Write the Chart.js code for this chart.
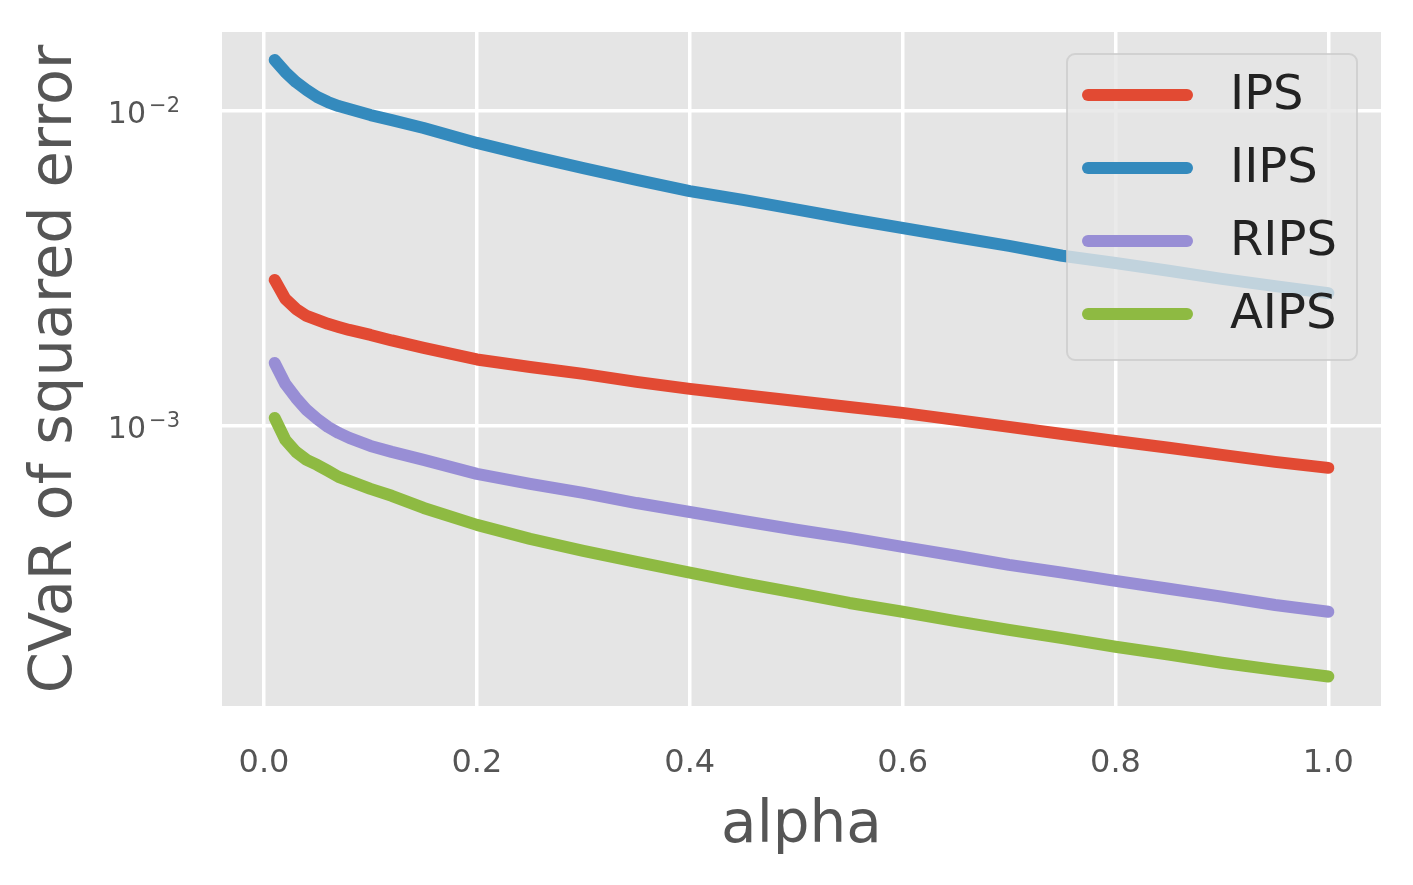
<!DOCTYPE html>
<html>
<head>
<meta charset="utf-8">
<script src="https://cdn.jsdelivr.net/npm/chart.js@4"></script>
<style>
  html, body { margin: 0; padding: 0; background: #ffffff; }
  canvas { display: block; }
</style>
</head>
<body>
<canvas id="cvar" width="1413" height="885"></canvas>
<script>
// valeurs (alpha en abscisse, CVaR en ordonnee log)
const alphaValues = [0.01, 0.02, 0.03, 0.04, 0.05, 0.06, 0.07, 0.08, 0.10, 0.12, 0.15,
    0.20, 0.25, 0.30, 0.35, 0.40, 0.45, 0.50, 0.55, 0.60, 0.65, 0.70, 0.75, 0.80, 0.85, 0.90, 0.95, 1.00];

const ipsValues = [0.002908, 0.002531, 0.002352, 0.002235, 0.002171, 0.002110, 0.002062, 0.002017, 0.001945, 0.001868, 0.001769,
    0.001626, 0.001539, 0.001463, 0.001380, 0.001311, 0.001254, 0.001200, 0.001149, 0.001100, 0.001045, 0.000993, 0.000943,
    0.000896, 0.000852, 0.000809, 0.000769, 0.000736];

const iipsValues = [0.01452, 0.01330, 0.01236, 0.01166, 0.01108, 0.01068, 0.01037, 0.01015, 0.00971, 0.00936, 0.00883,
    0.00792, 0.00720, 0.00659, 0.00604, 0.00557, 0.00522, 0.00487, 0.00454, 0.00425, 0.00398, 0.00373, 0.00347,
    0.00329, 0.00311, 0.00293, 0.00278, 0.00264];

const ripsValues = [0.001585, 0.001359, 0.001227, 0.001124, 0.001052, 0.000993, 0.000950, 0.000916, 0.000864, 0.000827, 0.000780,
    0.000704, 0.000655, 0.000613, 0.000569, 0.000533, 0.000499, 0.000468, 0.000441, 0.000413, 0.000387, 0.000362, 0.000342,
    0.000322, 0.000304, 0.000287, 0.000270, 0.000257];

const aipsValues = [0.001060, 0.000903, 0.000827, 0.000780, 0.000752, 0.000720, 0.000689, 0.000669, 0.000631, 0.000600, 0.000549,
    0.000485, 0.000438, 0.000401, 0.000370, 0.000342, 0.000317, 0.000295, 0.000274, 0.000257, 0.000240, 0.000225, 0.000212,
    0.000199, 0.000188, 0.000177, 0.000168, 0.000160];

const seriesNames = ["IPS", "IIPS", "RIPS", "AIPS"];
const seriesColors = ["#E24A33", "#348ABD", "#988ED5", "#8EBA42"];
const xTicks = [0.0, 0.2, 0.4, 0.6, 0.8, 1.0];
const yTicks = [1e-3, 1e-2];
const yTickExponents = ["\u22123", "\u22122"];

const FONT = "'DejaVu Sans', 'Liberation Sans', sans-serif";

function toPoints(values) {
    return values.map((v, i) => ({ x: alphaValues[i], y: v }));
}

const allSeries = [ipsValues, iipsValues, ripsValues, aipsValues];
const datasets = allSeries.map((vals, i) => ({
    label: seriesNames[i],
    data: toPoints(vals),
    borderColor: seriesColors[i],
    backgroundColor: seriesColors[i],
    borderWidth: 12,
    borderCapStyle: 'round',
    borderJoinStyle: 'round',
    pointRadius: 0,
    tension: 0,
    fill: false
}));

// fond gris facon ggplot
const panelBackground = {
    id: 'panelBackground',
    beforeDraw(chart) {
        const { ctx, chartArea: a } = chart;
        ctx.save();
        ctx.fillStyle = '#ffffff';
        ctx.fillRect(0, 0, chart.width, chart.height);
        ctx.fillStyle = '#E5E5E5';
        ctx.fillRect(a.left, a.top, a.right - a.left, a.bottom - a.top);
        ctx.restore();
    }
};

// etiquettes 10^-k avec exposant en petit, comme matplotlib
const logTickLabels = {
    id: 'logTickLabels',
    afterDraw(chart) {
        const { ctx } = chart;
        const yScale = chart.scales.y;
        const rightEdge = yScale.right - 42;
        ctx.save();
        ctx.fillStyle = '#555555';
        ctx.textBaseline = 'alphabetic';
        ctx.textAlign = 'left';
        yTicks.forEach((t, i) => {
            const py = yScale.getPixelForValue(t);
            ctx.font = "21px " + FONT;
            const supW = ctx.measureText(yTickExponents[i]).width;
            ctx.font = "30px " + FONT;
            const baseW = ctx.measureText("10").width;
            const x0 = rightEdge - supW - baseW - 3;
            ctx.fillText("10", x0, py + 12);
            ctx.font = "21px " + FONT;
            ctx.fillText(yTickExponents[i], x0 + baseW + 3, py + 1);
        });
        ctx.restore();
    }
};

// legende dans le coin haut droit, semi-transparente
const insideLegend = {
    id: 'insideLegend',
    afterDatasetsDraw(chart) {
        const { ctx, chartArea: a } = chart;
        const boxW = 290, boxH = 306;
        const bx = a.right - 24 - boxW, by = a.top + 22;
        ctx.save();
        ctx.beginPath();
        ctx.roundRect(bx, by, boxW, boxH, 8);
        ctx.fillStyle = 'rgba(229, 229, 229, 0.8)';
        ctx.fill();
        ctx.lineWidth = 2;
        ctx.strokeStyle = 'rgba(204, 204, 204, 0.8)';
        ctx.stroke();

        ctx.font = "48px " + FONT;
        ctx.textBaseline = 'middle';
        ctx.textAlign = 'left';
        chart.data.datasets.forEach((ds, i) => {
            const ly = by + 41 + i * 73;
            ctx.beginPath();
            ctx.moveTo(bx + 21, ly);
            ctx.lineTo(bx + 120, ly);
            ctx.lineWidth = 12;
            ctx.lineCap = 'round';
            ctx.strokeStyle = ds.borderColor;
            ctx.stroke();
            ctx.fillStyle = '#222222';
            ctx.fillText(ds.label, bx + 163, ly + 2);
        });
        ctx.restore();
    }
};

new Chart(document.getElementById('cvar').getContext('2d'), {
    type: 'line',
    data: { datasets: datasets },
    options: {
        responsive: false,
        animation: false,
        devicePixelRatio: 1,
        layout: { padding: { left: 0, top: 32, right: 32, bottom: 0 } },
        plugins: {
            legend: { display: false },
            tooltip: { enabled: false }
        },
        scales: {
            x: {
                type: 'linear',
                min: -0.0395,
                max: 1.0495,
                afterFit(scale) {
                    scale.height = 179;
                    scale.paddingLeft = 0;
                    scale.paddingRight = 0;
                },
                afterBuildTicks(scale) { scale.ticks = xTicks.map(v => ({ value: v })); },
                grid: { color: '#ffffff', lineWidth: 3.5, drawTicks: false },
                border: { display: false },
                ticks: {
                    padding: 38,
                    color: '#555555',
                    font: { family: FONT, size: 32 },
                    callback: v => Number(v).toFixed(1)
                },
                title: {
                    display: true,
                    text: 'alpha',
                    color: '#555555',
                    font: { family: FONT, size: 58 },
                    padding: { top: 0, bottom: 23 }
                }
            },
            y: {
                type: 'logarithmic',
                min: 1.29e-4,
                max: 0.01782,
                afterFit(scale) {
                    scale.width = 222;
                    scale.paddingTop = 0;
                    scale.paddingBottom = 0;
                },
                afterBuildTicks(scale) { scale.ticks = yTicks.map(v => ({ value: v })); },
                grid: { color: '#ffffff', lineWidth: 3.5, drawTicks: false },
                border: { display: false },
                ticks: {
                    padding: 42,
                    font: { family: FONT, size: 30 },
                    // les libelles sont dessines par logTickLabels
                    color: 'rgba(0,0,0,0)',
                    callback: () => ''
                },
                title: {
                    display: true,
                    text: 'CVaR of squared error',
                    color: '#555555',
                    font: { family: FONT, size: 59 },
                    padding: { top: 20, bottom: 0 }
                }
            }
        }
    },
    plugins: [panelBackground, insideLegend, logTickLabels]
});
</script>
</body>
</html>
